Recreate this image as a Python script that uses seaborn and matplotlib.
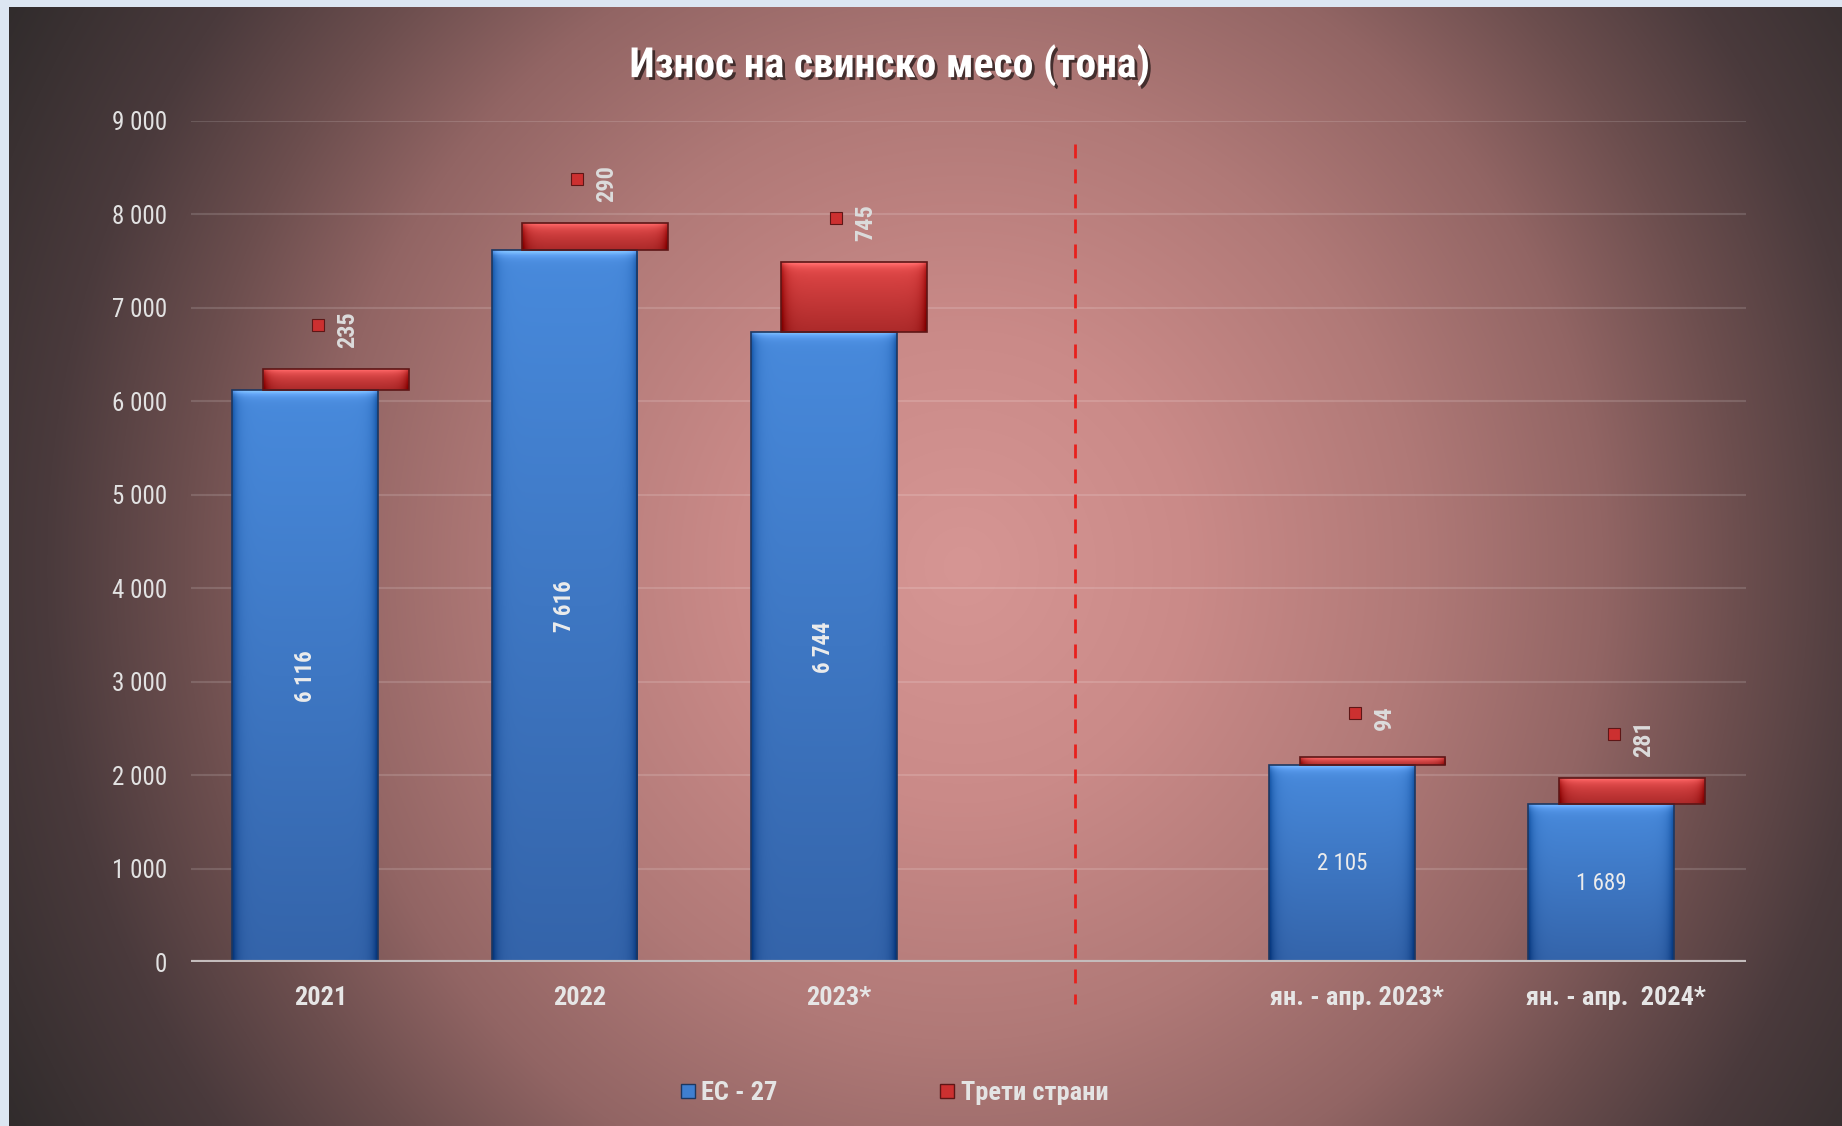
import numpy as np
import pandas as pd
import seaborn as sns
import matplotlib.pyplot as plt
import matplotlib.patheffects as pe
from matplotlib import font_manager as fm
from matplotlib.lines import Line2D

# Chart data
title = "Износ на свинско месо (тона)"
categories = ["2021", "2022", "2023*", "ян. - апр. 2023*", "ян. - апр.  2024*"]
gap_label = " "  # empty slot between the yearly and the Jan-Apr groups
order = categories[:3] + [gap_label] + categories[3:]
eu_values = [6116, 7616, 6744, 2105, 1689]
third_values = [235, 290, 745, 94, 281]
eu_rotation = [90, 90, 90, 0, 0]
eu_bold = [True, True, True, False, False]
series_names = ["ЕС - 27", "Трети страни"]
y_ticks = [0, 1000, 2000, 3000, 4000, 5000, 6000, 7000, 8000, 9000]


def fmt(v):
    return f"{v:,}".replace(",", " ")


sns.set_style("white")

# look for a narrow face, otherwise fall back to Roboto
installed = {f.name for f in fm.fontManager.ttflist}
narrow = [n for n in ["Liberation Sans Narrow", "Roboto Condensed", "Open Sans Condensed",
                      "Noto Sans Condensed", "DejaVu Sans Condensed"] if n in installed]
dv_cond = any(f.name == "DejaVu Sans" and "condensed" in str(f.stretch) for f in fm.fontManager.ttflist)
if narrow:
    plt.rcParams["font.family"] = [narrow[0], "DejaVu Sans"]
    k = 1.0
elif dv_cond:
    plt.rcParams["font.family"] = ["DejaVu Sans"]
    plt.rcParams["font.stretch"] = "condensed"
    k = 0.9
else:
    plt.rcParams["font.family"] = ["Roboto", "DejaVu Sans"]
    k = 0.88

W, H = 1842, 1126
fig = plt.figure(figsize=(W / 100, H / 100), dpi=100)
fig.patch.set_facecolor("#dce6f2")

# radial background
bg = fig.add_axes([9 / W, 0, 1 - 9 / W, 1 - 7 / H], zorder=-5)
gh, gw = 300, 500
yy, xx = np.mgrid[0:1:gh * 1j, 0:1:gw * 1j]
r = np.sqrt(((xx - 0.52) / 0.5) ** 2 + ((yy - 0.5) / 0.85) ** 2)
stops = [0, 0.25, 0.5, 0.7, 0.85, 1.0, 1.25]
cols = np.array([(214, 150, 148), (202, 138, 136), (176, 121, 119), (146, 101, 100),
                 (108, 78, 78), (74, 58, 60), (42, 40, 40)]) / 255
grad = np.dstack([np.interp(r, stops, cols[:, c]) for c in range(3)])
bg.imshow(grad, aspect="auto", extent=(0, 1, 0, 1), interpolation="bilinear")
bg.set_axis_off()

ax = fig.add_axes([191 / W, 164 / H, (1746 - 191) / W, (962 - 121) / H])
ax.set_facecolor("none")

df = pd.DataFrame({"period": categories, "eu": eu_values, "third": third_values})
bar_w = 0.5625
shift = 0.059
sns.barplot(data=df, x="period", y="eu", order=order, width=bar_w, color="#4483d6",
            edgecolor="#1d3760", linewidth=1.2, ax=ax, zorder=3)
sns.barplot(data=df, x="period", y="third", order=order, width=bar_w, color="#d23a3a",
            bottom=df["eu"].to_numpy(), edgecolor="#5e1616", linewidth=1.2, ax=ax, zorder=3)
blue_bars, red_bars = ax.containers[0], ax.containers[1]
for p in blue_bars:
    p.set_x(p.get_x() - shift)
for p in red_bars:
    p.set_x(p.get_x() + shift)

px_per_unit = (962 - 121) / 9000


def bevel_fill(p, top, bottom):
    h_px = max(p.get_height() * px_per_unit, 1)
    t = np.linspace(0, 1, 200)[:, None]
    s = np.linspace(0, 1, 60)[None, :]
    top, bottom = np.array(top) / 255, np.array(bottom) / 255
    base = top[None, None, :] * (1 - t[..., None]) + bottom[None, None, :] * t[..., None]
    light = 0.22 * np.exp(-(t * h_px) / 4.0)
    edge = 0.18 * (np.exp(-s / 0.035) + np.exp(-(1 - s) / 0.035))
    img = np.clip(base + light[..., None] - edge[..., None], 0, 1)
    x0, y0 = p.get_x(), p.get_y()
    im = ax.imshow(img, aspect="auto", interpolation="bilinear", zorder=3.5,
                   extent=(x0, x0 + p.get_width(), y0, y0 + p.get_height()))
    im.set_clip_path(p)


for p in blue_bars:
    bevel_fill(p, (72, 138, 220), (52, 100, 170))
for p in red_bars:
    bevel_fill(p, (226, 72, 72), (172, 42, 42))
for p in list(blue_bars) + list(red_bars):
    p.set_facecolor("none")
    p.set_zorder(4)

ax.set_xlim(-0.5, len(order) - 0.5)
ax.set_ylim(0, 9000)

# value labels
for cat, eu, th, rot, bold in zip(categories, eu_values, third_values, eu_rotation, eu_bold):
    pos = order.index(cat)
    ax.text(pos - shift, eu / 2, fmt(eu), rotation=rot, ha="center", va="center",
            fontsize=16.5 * k, fontweight="bold" if bold else "normal", color="#ececec", zorder=6)
    top = eu + th
    ax.text(pos + 0.105, top + 420, fmt(th), rotation=90, ha="center", va="center",
            fontsize=17.5 * k, fontweight="bold", color="#dcdcdc", zorder=6)
    ax.plot([pos - 0.01], [top + 470], marker="s", ms=9, mfc="#cc3030", mec="#5e1616",
            mew=0.8, ls="none", zorder=6)

# separator
sep_x = order.index(gap_label) - 0.09
ax.plot([sep_x, sep_x], [0.9727, -0.05], transform=ax.get_xaxis_transform(),
        color="#e8201c", lw=2, ls=(0, (5, 4)), clip_on=False, zorder=5)

ax.set_yticks(y_ticks, [fmt(v) for v in y_ticks])
ax.tick_params(axis="y", length=0, pad=17, labelsize=18 * k, labelcolor="#e2e2e2")
ax.tick_params(axis="x", length=0, pad=17, labelsize=19 * k, labelcolor="#e6e6e6")
for lab in ax.get_xticklabels():
    lab.set_fontweight("bold")
ax.set_xlabel("")
ax.set_ylabel("")
ax.yaxis.grid(True, color="#ffffff", alpha=0.14, lw=1.5, zorder=0)
ax.xaxis.grid(False)
ax.set_axisbelow(True)
for sp in ax.spines.values():
    sp.set_visible(False)
ax.axhline(0, color="#c4bcbc", lw=3, zorder=5)

fig.text(890 / W, 1 - 65 / H, title, ha="center", va="center", fontsize=30 * k,
         fontweight="bold", color="white",
         path_effects=[pe.withSimplePatchShadow(offset=(2, -2), shadow_rgbFace="black", alpha=0.6)])

handles = [Line2D([], [], marker="s", ls="none", ms=10, mfc="#3f7fd0", mec="#1d3760"),
           Line2D([], [], marker="s", ls="none", ms=10, mfc="#cc3030", mec="#5e1616")]
fig.legend(handles, series_names, loc="center", bbox_to_anchor=(0.485, 1 - 1093 / H),
           ncol=2, frameon=False, handletextpad=0.15, columnspacing=6.1, handlelength=0.7,
           prop={"size": 19 * k, "weight": "bold"}, labelcolor="#e4e4e4")

fig.savefig("out.png", dpi=100, facecolor=fig.get_facecolor())
